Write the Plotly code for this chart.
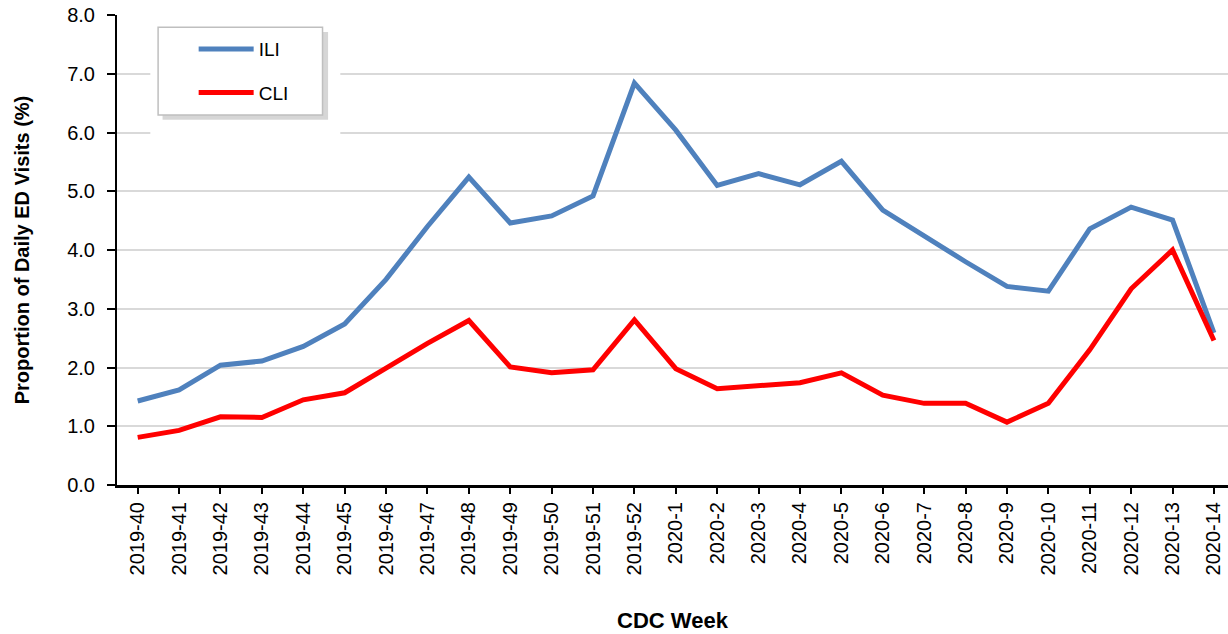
import plotly.graph_objects as go

# CDC weeks, 2019-40 through 2020-14
weeks = [f"2019-{w}" for w in range(40, 53)] + [f"2020-{w}" for w in range(1, 15)]

ili = [1.43, 1.62, 2.04, 2.11, 2.36, 2.74, 3.50, 4.40, 5.24, 4.46, 4.58, 4.92, 6.84,
       6.04, 5.10, 5.30, 5.11, 5.51, 4.68, 4.23, 3.80, 3.38, 3.30, 4.36, 4.73, 4.51, 2.59]
cli = [0.81, 0.93, 1.16, 1.15, 1.45, 1.57, 1.99, 2.41, 2.80, 2.01, 1.91, 1.96, 2.81,
       1.98, 1.64, 1.69, 1.74, 1.91, 1.53, 1.39, 1.39, 1.07, 1.39, 2.30, 3.34, 4.00, 2.46]

font = "Liberation Sans"

fig = go.Figure()
fig.add_trace(go.Scatter(x=weeks, y=ili, name="ILI", mode="lines", legendgroup="a",
                         line=dict(color="#4f81bd", width=5)))
fig.add_trace(go.Scatter(x=weeks, y=cli, name="CLI", mode="lines", legendgroup="b",
                         line=dict(color="#ff0000", width=5)))

# white patch behind the legend, then shadow, then the frame (Excel style)
fig.add_shape(type="rect", xref="paper", yref="paper", layer="above",
              x0=0.030, x1=0.201, y0=0.745, y1=0.988,
              fillcolor="white", line_width=0)
fig.add_shape(type="rect", xref="paper", yref="paper", layer="above",
              x0=0.041, x1=0.190, y0=0.777, y1=0.964,
              fillcolor="rgba(0,0,0,0.16)", line_width=0)
fig.add_shape(type="rect", xref="paper", yref="paper", layer="above",
              x0=0.037, x1=0.185, y0=0.787, y1=0.974,
              fillcolor="white", line=dict(color="#bfbfbf", width=1.5))

fig.update_layout(
    width=1228, height=634,
    margin=dict(l=117, r=0, t=15, b=149),
    paper_bgcolor="white", plot_bgcolor="white",
    font=dict(family=font, size=18, color="black"),
    showlegend=True,
    legend=dict(x=0.069, y=0.968, xanchor="left", yanchor="top",
                bgcolor="rgba(0,0,0,0)", borderwidth=0,
                font=dict(size=19), itemwidth=55, tracegroupgap=16),
)

fig.update_xaxes(
    type="category", range=[-0.5, 26.34], automargin=False,
    showline=True, linecolor="black", linewidth=3,
    ticks="outside", ticklen=6, tickwidth=2, tickcolor="black",
    tickangle=-90, tickfont=dict(size=20),
    showgrid=False,
    title=dict(text="<b>CDC Week</b>", font=dict(size=22), standoff=39),
)
fig.update_yaxes(
    range=[0, 8], dtick=1, tickformat=".1f", automargin=False,
    showline=True, linecolor="black", linewidth=2,
    ticks="outside", ticklen=8, tickwidth=2, tickcolor="black",
    tickfont=dict(size=20), ticklabelstandoff=8,
    showgrid=True, gridcolor="#d9d9d9", gridwidth=2,
    zeroline=False,
    title=dict(text="<b>Proportion of Daily ED Visits (%)</b>", font=dict(size=20), standoff=32),
)

# drop the browser's default 8px body margin so the chart sits flush
fig.write_html("out.html", config={"displayModeBar": False},
               post_script="document.body.style.margin='0';")
